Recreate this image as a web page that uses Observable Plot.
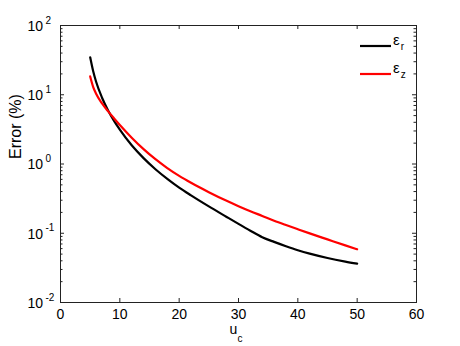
<!DOCTYPE html>
<html><head><meta charset="utf-8">
<script src="https://cdn.jsdelivr.net/npm/d3@7"></script>
<script src="https://cdn.jsdelivr.net/npm/@observablehq/plot@0.6"></script>
<style>
body{margin:0;background:#fff;}
#wrap{position:relative;width:460px;height:346px;font-family:"Liberation Sans",Arial,Helvetica,sans-serif;}
#legend{position:absolute;left:0;top:0;pointer-events:none;}
</style></head><body><div id="wrap"></div>
<script>
// ---- data ----
const uc   = [5, 5.5, 6, 7, 8, 9, 10, 12, 14, 16, 18, 20, 22, 25, 28, 30, 32, 34, 36, 38, 40, 42, 45, 48, 50];
const epsR = [34.8, 22.0, 15.38, 9.06, 5.98, 4.24, 3.14, 1.866, 1.216, 0.841, 0.610, 0.456, 0.352, 0.244, 0.172, 0.1365, 0.1089, 0.0877, 0.0750, 0.0650, 0.0569, 0.0507, 0.0439, 0.0390, 0.0364];
const epsZ = [18.4, 13.03, 10.35, 7.50, 5.79, 4.58, 3.66, 2.40, 1.64, 1.172, 0.873, 0.673, 0.535, 0.392, 0.294, 0.246, 0.208, 0.178, 0.152, 0.1315, 0.1143, 0.0995, 0.0815, 0.0668, 0.0587];
const seriesNames = ["r", "z"];
const seriesColors = ["#000000", "#ff0000"];
const xTicks = [0, 10, 20, 30, 40, 50, 60];
const yMajor = [0.01, 0.1, 1, 10, 100];
const yExp = ["-2", "-1", "0", "1", "2"];
const yMinor = [0.02,0.03,0.04,0.05,0.06,0.07,0.08,0.09,
                0.2,0.3,0.4,0.5,0.6,0.7,0.8,0.9,
                2,3,4,5,6,7,8,9,
                20,30,40,50,60,70,80,90];

// ---- layout ----
const W = 460, H = 346, ML = 60, MT = 25, MR = 44, MB = 44;
const iw = W - ML - MR, ih = H - MT - MB;
const font = '"Liberation Sans", Arial, Helvetica, sans-serif';
const axisColor = "#222";

const rowsR = uc.map((u, i) => ({u, err: epsR[i]}));
const rowsZ = uc.map((u, i) => ({u, err: epsZ[i]}));
const majorIdx = yMajor.map((d, i) => i);

const chart = Plot.plot({
  width: W, height: H,
  marginLeft: ML, marginTop: MT, marginRight: MR, marginBottom: MB,
  style: {fontFamily: font, fontSize: "14px", color: "#000", background: "#fff", overflow: "visible"},
  x: {domain: [0, 60]},
  y: {type: "log", domain: [0.01, 100], axis: null},
  marks: [
    Plot.frame({stroke: axisColor}),
    Plot.tickX(xTicks, {x: d => d, insetTop: ih - 4, stroke: axisColor}),
    Plot.tickX(xTicks, {x: d => d, insetBottom: ih - 4, stroke: axisColor}),
    Plot.tickY(yMajor, {y: d => d, insetRight: iw - 4, stroke: axisColor}),
    Plot.tickY(yMajor, {y: d => d, insetLeft: iw - 4, stroke: axisColor}),
    Plot.tickY(yMinor, {y: d => d, insetRight: iw - 2.5, stroke: axisColor}),
    Plot.tickY(yMinor, {y: d => d, insetLeft: iw - 2.5, stroke: axisColor}),
    Plot.axisX(xTicks, {tickSize: 0, tickPadding: 7, label: null, fontSize: 14, fill: "#000"}),
    Plot.text(majorIdx, {y: i => yMajor[i], text: () => "10", frameAnchor: "left", textAnchor: "start", dx: -33, dy: 1, fontSize: 14, fill: "#000"}),
    Plot.text(majorIdx, {y: i => yMajor[i], text: i => yExp[i], frameAnchor: "left", textAnchor: "start", dx: -15, dy: -5, fontSize: 10, fill: "#000"}),
    Plot.text(["Error (%)"], {frameAnchor: "left", rotate: -90, dx: -45, dy: -5, fontSize: 16, fill: "#000"}),
    Plot.text(["u"], {frameAnchor: "bottom", dx: -5, dy: 31.5, fontSize: 14, fill: "#000"}),
    Plot.text(["c"], {frameAnchor: "bottom", textAnchor: "start", dx: -1, dy: 39.5, fontSize: 10, fill: "#000"}),
    Plot.line(rowsR, {x: "u", y: "err", stroke: seriesColors[0], strokeWidth: 2.2, curve: "monotone-x"}),
    Plot.line(rowsZ, {x: "u", y: "err", stroke: seriesColors[1], strokeWidth: 2.2, curve: "monotone-x"})
  ]
});
const wrap = document.getElementById("wrap");
wrap.appendChild(chart);

// ---- legend ----
const leg = d3.select(wrap).append("svg").attr("id", "legend").attr("width", W).attr("height", H)
  .style("font-family", font);
seriesNames.forEach((name, i) => {
  const y = 46 + i * 28;
  leg.append("line").attr("x1", 360).attr("x2", 391).attr("y1", y).attr("y2", y)
    .attr("stroke", seriesColors[i]).attr("stroke-width", 2.2);
  const t = leg.append("text").attr("x", 393).attr("y", y - 1).attr("font-size", 15).attr("fill", "#000");
  t.append("tspan").text("ε");
  t.append("tspan").attr("font-size", 10).attr("dy", 5).attr("dx", 1).text(name);
});
</script>
</body></html>
